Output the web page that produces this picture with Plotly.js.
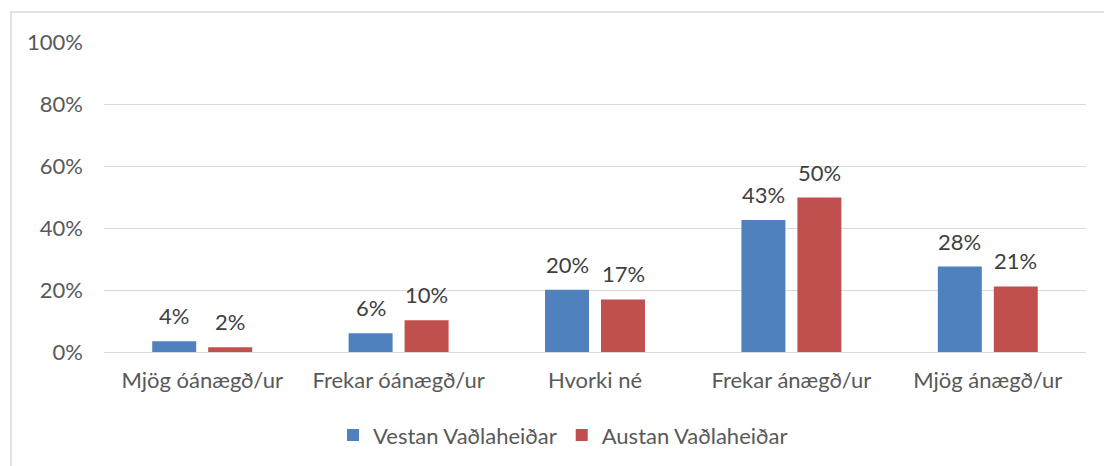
<!DOCTYPE html>
<html>
<head>
<meta charset="utf-8">
<script src="https://cdn.plot.ly/plotly-3.0.1.min.js"></script>
<style>html,body{margin:0;padding:0;background:#fff;}#chart{width:1104px;height:466px;}</style>
</head>
<body>
<div id="chart"></div>
<script>
const categories = ["Mjög óánægð/ur", "Frekar óánægð/ur", "Hvorki né", "Frekar ánægð/ur", "Mjög ánægð/ur"];
const seriesNames = ["Vestan Vaðlaheiðar", "Austan Vaðlaheiðar"];
const vestan = [3.5, 6.1, 20.1, 42.7, 27.6];
const austan = [1.5, 10.3, 17.0, 49.9, 21.2];
const vestanLabels = ["4%", "6%", "20%", "43%", "28%"];
const austanLabels = ["2%", "10%", "17%", "50%", "21%"];
const yTicks = [0, 20, 40, 60, 80, 100];

const FONT = "Lato, 'Open Sans', sans-serif";
const colors = ["#4F81BD", "#C0504D"];

const traces = [
  {type: "bar", name: seriesNames[0], x: categories, y: vestan, marker: {color: colors[0]}, hoverinfo: "none"},
  {type: "bar", name: seriesNames[1], x: categories, y: austan, marker: {color: colors[1]}, hoverinfo: "none"}
];

const annotations = [];
[[vestan, vestanLabels, -28], [austan, austanLabels, 28]].forEach(([vals, labs, dx]) => {
  vals.forEach((v, i) => {
    annotations.push({
      x: categories[i], y: v, xref: "x", yref: "y", text: labs[i], showarrow: false,
      xanchor: "center", yanchor: "bottom", xshift: dx, yshift: 10,
      font: {family: FONT, size: 22, color: "#404040"}
    });
  });
});

const layout = {
  width: 1104, height: 466,
  margin: {l: 104, r: 18, t: 42, b: 114},
  paper_bgcolor: "#ffffff", plot_bgcolor: "#ffffff",
  barmode: "group", bargap: 0.43, bargroupgap: 0.214,
  showlegend: true,
  legend: {
    orientation: "h", xref: "container", yref: "container",
    x: 0.51, xanchor: "center", y: 0.066, yanchor: "middle",
    font: {family: FONT, size: 22, color: "#595959"},
    traceorder: "normal", itemclick: false
  },
  xaxis: {
    type: "category", showgrid: false, showline: false, ticks: "",
    tickfont: {family: FONT, size: 22, color: "#595959"},
    ticklabelstandoff: 13, fixedrange: true
  },
  yaxis: {
    range: [0, 100.2], tickvals: yTicks, ticktext: yTicks.map(t => t + "%"),
    showgrid: true, gridcolor: "#d9d9d9", gridwidth: 1,
    zeroline: true, zerolinecolor: "#d9d9d9", zerolinewidth: 1,
    showline: false, ticks: "",
    tickfont: {family: FONT, size: 22, color: "#595959"},
    ticklabelstandoff: 20, fixedrange: true
  },
  annotations: annotations,
  shapes: [{
    type: "rect", xref: "paper", yref: "paper",
    x0: -0.0947, x1: 1.2, y0: -0.6, y1: 1.097,
    line: {color: "#d9d9d9", width: 1.5}, fillcolor: "rgba(0,0,0,0)", layer: "below"
  }]
};

Plotly.newPlot("chart", traces, layout, {staticPlot: true, displayModeBar: false});
</script>
</body>
</html>
